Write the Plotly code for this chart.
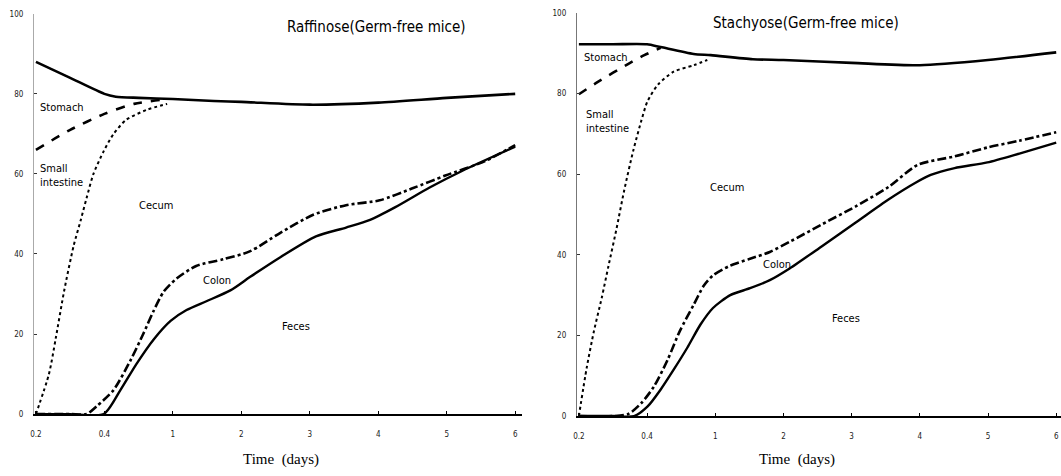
import numpy as np
import plotly.graph_objects as go

# ---------------- data ----------------
tick_days = [0.2, 0.4, 1, 2, 3, 4, 5, 6]
tick_labels = ["0.2", "0.4", "1", "2", "3", "4", "5", "6"]
y_ticks = [0, 20, 40, 60, 80, 100]

# Raffinose (Germ-free mice): cumulative boundaries (%)
raf_stomach_t = [0.2, 0.3, 0.4, 0.5, 0.7, 1, 1.6, 2, 3, 4, 5, 6]
raf_stomach = [88, 84, 80, 79.3, 79, 78.7, 78.2, 78, 77.3, 77.8, 79, 80]
raf_small_t = [0.2, 0.3, 0.4, 0.66, 0.95]
raf_small = [66, 71, 75, 77.5, 78.7]
raf_cecum_t = [0.2, 0.238, 0.258, 0.282, 0.31, 0.331, 0.348, 0.368, 0.398, 0.48, 0.59, 0.77, 0.95]
raf_cecum = [0, 10, 19, 30.6, 42, 48.5, 54, 60, 65.7, 70, 73.5, 76, 77.5]
raf_colon_t = [0.2, 0.3, 0.348, 0.378, 0.48, 0.63, 0.74, 0.83, 0.92, 1.05, 1.34, 1.74, 2.13,
               2.57, 3.05, 3.53, 4.02, 4.5, 4.98, 5.56, 6]
raf_colon = [0, 0, 0, 2, 6, 13.5, 20, 25.7, 30.6, 33.8, 37, 38.7, 40.7,
             45.3, 49.8, 52.2, 53.4, 56.4, 59.6, 63.2, 67.2]
raf_feces_t = [0.2, 0.3, 0.398, 0.54, 0.68, 0.83, 0.98, 1.2, 1.49, 1.84, 2.13, 2.57, 3.09,
               3.53, 3.88, 4.25, 4.75, 5.23, 6]
raf_feces = [0, 0, 0, 6, 12.5, 18.6, 23.3, 26, 28.2, 30.9, 34.3, 39.2, 44.4,
             46.6, 48.5, 51.7, 56.6, 60.8, 66.8]

# Stachyose (Germ-free mice)
sta_stomach_t = [0.2, 0.3, 0.4, 0.52, 0.81, 0.96, 1.55, 2, 3, 4, 5, 6]
sta_stomach = [92.2, 92.2, 92.2, 91.5, 89.8, 89.5, 88.5, 88.3, 87.6, 87, 88.3, 90.2]
sta_small_t = [0.2, 0.258, 0.344, 0.392, 0.52]
sta_small = [79.8, 83, 87.3, 89.5, 91.3]
sta_cecum_t = [0.2, 0.223, 0.244, 0.267, 0.287, 0.31, 0.333, 0.36, 0.383, 0.403, 0.496, 0.634, 0.81, 0.93]
sta_cecum = [0, 12, 21, 29.3, 37.3, 46.3, 56, 66, 73.2, 78, 82.2, 85.4, 87, 88.3]
sta_colon_t = [0.2, 0.3, 0.345, 0.383, 0.46, 0.58, 0.69, 0.81, 0.9, 0.98, 1.22, 1.51, 1.8,
               2.09, 2.57, 3.06, 3.54, 3.97, 4.51, 4.99, 5.46, 6]
sta_colon = [0, 0, 0.5, 3.2, 7.3, 13.9, 21.2, 27.6, 32.4, 34.9, 37.3, 39, 40.7,
             43.2, 47.6, 52, 56.8, 62.3, 64.4, 66.6, 68.3, 70.4]
sta_feces_t = [0.2, 0.3, 0.362, 0.405, 0.52, 0.634, 0.755, 0.87, 0.98, 1.22, 1.51, 1.8, 2.09,
               2.57, 3.06, 3.54, 3.93, 4.16, 4.51, 4.99, 5.46, 6]
sta_feces = [0, 0, 0, 2.4, 6.6, 11.5, 17, 22.7, 26.8, 30, 31.7, 33.7, 36.6,
             42.2, 48, 53.7, 57.8, 59.8, 61.5, 62.9, 65.1, 67.8]

# region labels: (text, day, value, anchor)
raf_labels = [("Stomach", 0.205, 76.7, "left"), ("Small<br>intestine", 0.205, 59.5, "left"),
              ("Cecum", 0.85, 52.2, "center"), ("Colon", 1.65, 33.3, "center"),
              ("Feces", 2.8, 22, "center")]
sta_labels = [("Stomach", 0.208, 89, "left"), ("Small<br>intestine", 0.214, 73, "left"),
              ("Cecum", 1.17, 56.8, "center"), ("Colon", 1.9, 37.6, "center"),
              ("Feces", 2.91, 24.1, "center")]

# ---------------- helpers ----------------
tick_pos = np.arange(len(tick_days))


def pos(days):
    return np.interp(np.asarray(days, dtype=float), tick_days, tick_pos)


fig = go.Figure()

styles = {
    "stomach": dict(dash="solid", width=2.6),
    "small": dict(dash="dash", width=2.6),
    "cecum": dict(dash="dot", width=2.0),
    "colon": dict(dash="dashdot", width=2.6),
    "feces": dict(dash="solid", width=2.4),
}

panels = [
    ("x", "y", [("stomach", raf_stomach_t, raf_stomach), ("small", raf_small_t, raf_small),
                ("cecum", raf_cecum_t, raf_cecum), ("colon", raf_colon_t, raf_colon),
                ("feces", raf_feces_t, raf_feces)], raf_labels),
    ("x2", "y2", [("stomach", sta_stomach_t, sta_stomach), ("small", sta_small_t, sta_small),
                  ("cecum", sta_cecum_t, sta_cecum), ("colon", sta_colon_t, sta_colon),
                  ("feces", sta_feces_t, sta_feces)], sta_labels),
]

label_font = dict(family="Liberation Sans Narrow, DejaVu Sans Condensed, sans-serif",
                  size=11, color="black")

for xa, ya, series, labels in panels:
    for key, t, v in series:
        st = styles[key]
        fig.add_trace(go.Scatter(
            x=pos(t), y=v, mode="lines", xaxis=xa, yaxis=ya, showlegend=False,
            line=dict(color="black", width=st["width"], dash=st["dash"],
                      shape="spline", smoothing=0.7),
            hoverinfo="skip"))
    for text, d, val, al in labels:
        fig.add_annotation(x=float(pos(d)), y=val, xref=xa, yref=ya, text=text,
                           showarrow=False, xanchor=al, yanchor="middle", align="left",
                           font=label_font)

W, H = 1061, 476
title_font = dict(family="Liberation Sans Narrow, DejaVu Sans Condensed, sans-serif",
                  size=15, color="black")
fig.add_annotation(x=374 / W, y=1 - 23 / H, xref="paper", yref="paper",
                   xanchor="center", yanchor="middle",
                   text="Raffinose(Germ-free mice)", showarrow=False, font=title_font)
fig.add_annotation(x=805 / W, y=1 - 19 / H, xref="paper", yref="paper",
                   xanchor="center", yanchor="middle",
                   text="Stachyose(Germ-free mice)", showarrow=False, font=title_font)

xt_font = dict(family="Liberation Serif, Times New Roman, serif", size=15, color="black")
fig.add_annotation(x=278 / W, y=1 - 464 / H, xref="paper", yref="paper",
                   xanchor="center", yanchor="middle",
                   text="Time  (days)", showarrow=False, font=xt_font)
fig.add_annotation(x=796 / W, y=1 - 464 / H, xref="paper", yref="paper",
                   xanchor="center", yanchor="middle",
                   text="Time  (days)", showarrow=False, font=xt_font)

tick_font = dict(family="DejaVu Sans Condensed, sans-serif", size=8, color="#222")

xcommon = dict(tickmode="array", tickvals=list(tick_pos), ticktext=tick_labels,
               showgrid=False, zeroline=False, showline=True, linecolor="black",
               linewidth=2, ticks="inside", ticklen=3, tickcolor="black",
               tickfont=tick_font, ticklabelstandoff=11, fixedrange=True)
ycommon = dict(tickmode="array", tickvals=y_ticks, ticktext=[str(v) for v in y_ticks],
               range=[0, 100], showgrid=False, zeroline=False, showline=True,
               linewidth=1, ticks="inside", ticklen=3, tickcolor="#333",
               tickfont=tick_font, ticklabelstandoff=8, fixedrange=True)

fig.update_layout(
    width=W, height=H, margin=dict(l=0, r=0, t=0, b=0, pad=0),
    paper_bgcolor="white", plot_bgcolor="white",
    xaxis=dict(xcommon, domain=[30 / W, 520 / W], range=[-0.03, 7.1], anchor="y"),
    yaxis=dict(ycommon, domain=[(H - 418) / H, (H - 10) / H], anchor="x", linecolor="#aaa"),
    xaxis2=dict(xcommon, domain=[575 / W, 1.0], range=[-0.03, 7.07], anchor="y2"),
    yaxis2=dict(ycommon, domain=[(H - 420) / H, (H - 9) / H], anchor="x2", linecolor="#777"),
)

fig.write_html("out.html")
